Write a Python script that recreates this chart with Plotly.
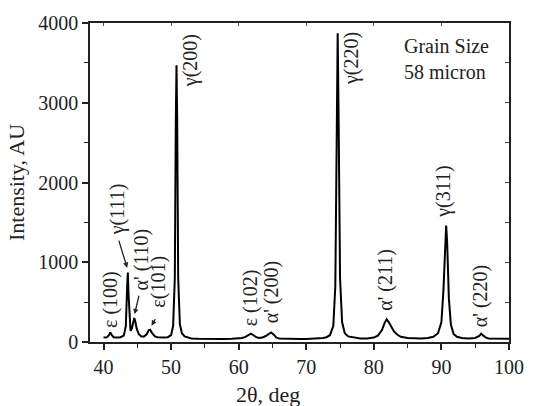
import plotly.graph_objects as go

# 2theta (deg) and intensity (AU)
two_theta = [40.0, 40.5, 40.8, 41.0, 41.2, 41.5, 42.0, 42.5, 43.0, 43.3, 43.5, 43.6, 43.7, 43.85,
             44.0, 44.2, 44.4, 44.55, 44.7, 44.9, 45.2, 45.6, 46.0, 46.4, 46.7, 46.9, 47.2, 47.6,
             48.0, 48.5, 49.0, 49.5, 50.0, 50.3, 50.55, 50.7, 50.8, 50.9, 51.05, 51.3, 51.6, 52.0,
             52.5, 53.0, 54.0, 55.0, 56.0, 57.0, 58.0, 59.0, 60.0, 60.5, 61.0, 61.5, 61.8, 62.2,
             62.6, 63.0, 63.5, 64.0, 64.5, 64.8, 65.2, 65.6, 66.0, 67.0, 68.0, 69.0, 70.0, 71.0,
             72.0, 72.5, 73.0, 73.5, 74.0, 74.3, 74.5, 74.65, 74.8, 75.0, 75.3, 75.7, 76.2, 77.0,
             78.0, 79.0, 80.0, 80.6, 81.2, 81.6, 81.9, 82.2, 82.6, 83.0, 83.5, 84.0, 85.0, 86.0,
             87.0, 88.0, 88.8, 89.5, 90.0, 90.3, 90.55, 90.7, 90.85, 91.1, 91.4, 91.8, 92.3, 93.0,
             94.0, 95.0, 95.6, 95.9, 96.2, 96.6, 97.0, 98.0, 99.0, 100.0]
intensity = [55, 60, 85, 120, 90, 60, 55, 60, 80, 200, 700, 870, 600, 250,
             140, 170, 270, 300, 260, 170, 100, 70, 70, 100, 150, 155, 110, 70,
             60, 55, 55, 60, 85, 200, 800, 2800, 3470, 2800, 800, 220, 110, 70,
             55, 45, 40, 38, 38, 35, 38, 40, 45, 50, 65, 95, 105, 85,
             60, 50, 55, 75, 110, 120, 90, 55, 45, 40, 38, 38, 38, 40,
             45, 50, 60, 85, 200, 700, 2500, 3870, 2700, 800, 250, 110, 70, 55,
             45, 45, 55, 80, 150, 240, 285, 250, 180, 130, 90, 65, 50, 45,
             45, 50, 65, 110, 250, 650, 1300, 1460, 1250, 550, 220, 100, 65, 50,
             45, 50, 75, 105, 80, 55, 45, 42, 40, 40]

# peak labels (text, x, y centre)
peak_labels = ["ε (100)", "γ(111)", "α' (110)", "ε(101)", "γ(200)", "ε (102)", "α' (200)",
               "γ(220)", "α' (211)", "γ(311)", "α' (220)"]
label_x = [41.0, 42.1, 45.6, 48.1, 52.9, 61.7, 64.9, 76.8, 81.8, 90.3, 95.8]
label_y = [530, 1660, 1040, 760, 3530, 550, 620, 3550, 780, 1890, 570]

# arrows (tail x, tail y, head x, head y)
arrow_tail_x = [42.2, 45.3, 47.8]
arrow_tail_y = [1290, 600, 305]
arrow_head_x = [43.5, 44.6, 47.1]
arrow_head_y = [930, 350, 205]

FONT = "'Liberation Serif', 'DejaVu Serif', serif"
TXT = "#222222"

fig = go.Figure()
fig.add_trace(go.Scatter(x=two_theta, y=intensity, mode="lines",
                         line=dict(color="black", width=2), showlegend=False,
                         hoverinfo="skip"))
# invisible copy so the mirrored top/right axes render with their own ticks
fig.add_trace(go.Scatter(x=two_theta, y=intensity, mode="lines", xaxis="x2", yaxis="y2",
                         line=dict(color="rgba(0,0,0,0)", width=0), showlegend=False,
                         hoverinfo="skip"))

annotations = []
for t, x, y in zip(peak_labels, label_x, label_y):
    annotations.append(dict(x=x, y=y, xref="x", yref="y", text=t, textangle=-90,
                            showarrow=False, font=dict(family=FONT, size=20, color=TXT)))
for tx, ty, hx, hy in zip(arrow_tail_x, arrow_tail_y, arrow_head_x, arrow_head_y):
    annotations.append(dict(x=hx, y=hy, ax=tx, ay=ty, xref="x", yref="y", axref="x",
                            ayref="y", text="", showarrow=True, arrowhead=2, arrowsize=0.8,
                            arrowwidth=1.3, arrowcolor="#222222", standoff=0, startstandoff=0))
annotations.append(dict(x=0.745, y=0.97, xref="paper", yref="paper", xanchor="left",
                        yanchor="top", align="left", showarrow=False,
                        text="Grain Size<br>58 micron",
                        font=dict(family=FONT, size=20, color=TXT)))
annotations.append(dict(x=64.4, y=-0.165, xref="x", yref="paper", xanchor="center",
                        yanchor="middle", showarrow=False, text="2θ, deg",
                        font=dict(family=FONT, size=22, color=TXT)))

fig.update_layout(
    width=536, height=406,
    margin=dict(l=90, r=24, t=14, b=64),
    paper_bgcolor="white", plot_bgcolor="white",
    font=dict(family=FONT, size=20, color=TXT),
    annotations=annotations,
    xaxis=dict(range=[38, 100], tickvals=[40, 50, 60, 70, 80, 90, 100],
               ticks="outside", ticklen=6, tickwidth=1.5, tickcolor="#222",
               showline=True, linecolor="#222", linewidth=1.5, showgrid=False,
               zeroline=False, tickfont=dict(family=FONT, size=20, color=TXT),
               minor=dict(tickvals=[45, 55, 65, 75, 85, 95], ticks="outside", ticklen=4,
                          tickwidth=1.3, tickcolor="#222")),
    yaxis=dict(range=[0, 4000], tickvals=[0, 1000, 2000, 3000, 4000],
               ticks="outside", ticklen=6, tickwidth=1.5, tickcolor="#222",
               showline=True, linecolor="#222", linewidth=1.5, showgrid=False,
               zeroline=False, tickfont=dict(family=FONT, size=20, color=TXT),
               title=dict(text="Intensity, AU", font=dict(family=FONT, size=22, color=TXT),
                          standoff=8),
               minor=dict(tickvals=[500, 1500, 2500, 3500], ticks="outside", ticklen=4,
                          tickwidth=1.3, tickcolor="#222")),
    xaxis2=dict(range=[38, 100], overlaying="x", side="top", showticklabels=False,
                tickvals=[40, 50, 60, 70, 80, 90, 100], ticks="inside", ticklen=3,
                tickwidth=1, tickcolor="#555", showline=True, linecolor="#222",
                linewidth=1.5, showgrid=False, zeroline=False),
    yaxis2=dict(range=[0, 4000], overlaying="y", side="right", showticklabels=False,
                dtick=500, ticks="inside", ticklen=4, tickwidth=1.2, tickcolor="#444",
                showline=True, linecolor="#222", linewidth=1.5, showgrid=False,
                zeroline=False),
)

fig.write_html("out.html")
